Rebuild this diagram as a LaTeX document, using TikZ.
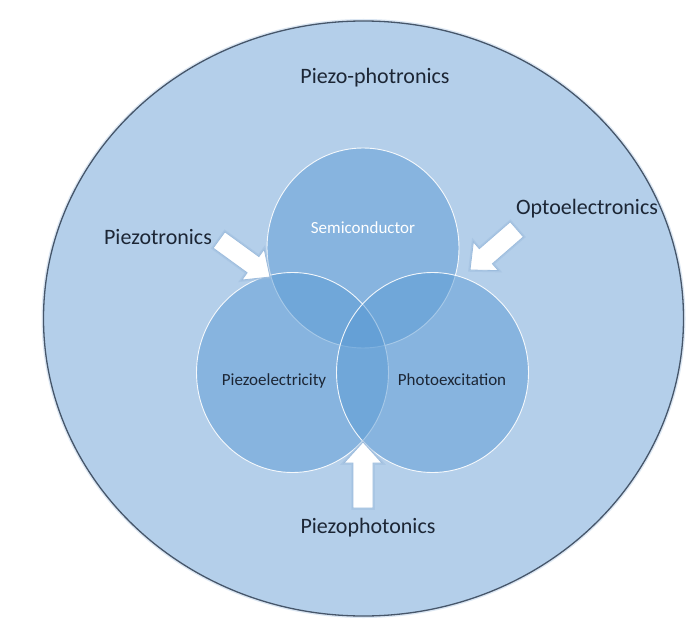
\documentclass[tikz,border=0pt]{standalone}
\usepackage{fontspec}
\setmainfont{Carlito}
\definecolor{bgblue}{HTML}{B4CFEA}
\definecolor{vennblue}{HTML}{5B9BD5}
\definecolor{outline}{HTML}{46566A}
\definecolor{labelc}{HTML}{1C2635}
\definecolor{glowc}{HTML}{9CBCDD}
\newcommand\blockarr[3]{%
  \begin{scope}[shift={#1}, rotate=#2]
    \filldraw[blockarrow] (0,0) -- (-21,19) -- (-21,10) -- (-#3,10) -- (-#3,-10) -- (-21,-10) -- (-21,-19) -- cycle;
  \end{scope}}
\begin{document}
\begin{tikzpicture}[x=1pt,y=1pt,
  bigtext/.style={font=\fontsize{22}{26}\selectfont, text=labelc, anchor=base, inner sep=0pt},
  smalltext/.style={font=\fontsize{17}{20}\selectfont, text=labelc, anchor=base, inner sep=0pt},
  venn/.style={fill=vennblue, fill opacity=0.5, draw=white, draw opacity=0.9, line width=0.9pt},
  blockarrow/.style={fill=white, draw=glowc, line width=0.8pt, line join=miter,
    preaction={draw=glowc, draw opacity=0.45, line width=3.5pt}}]
\useasboundingbox (0,0) rectangle (692,638);
\fill[white] (0,0) rectangle (692,638);
% outer circle
\coordinate (outer) at (363.5,319.5);
\draw[glowc, opacity=0.35, line width=4pt] (outer) ellipse [x radius=320, y radius=297.5];
\filldraw[fill=bgblue, draw=outline, line width=1.3pt] (outer) ellipse [x radius=320, y radius=297.5];
% venn circles
\coordinate (semi) at (363,390);
\coordinate (piezo) at (292.5,265.5);
\coordinate (photo) at (432.5,265.5);
\path[venn] (semi) ellipse [x radius=96, y radius=100];
\path[venn] (piezo) ellipse [x radius=96, y radius=100];
\path[venn] (photo) ellipse [x radius=96, y radius=100];
% arrows
\coordinate (tipA) at (270,361);
\coordinate (tipB) at (470,368);
\coordinate (tipC) at (363,196);
\blockarr{(tipA)}{-36}{63}
\blockarr{(tipB)}{221}{62}
\blockarr{(tipC)}{90}{66}
% labels
\node[bigtext] (title) at (375,554.6) {Piezo-photronics};
\node[bigtext] (ptron) at (158,393) {Piezotronics};
\node[bigtext] (opto) at (587,423) {Optoelectronics};
\node[bigtext] (pphot) at (368,105) {Piezophotonics};
\node[smalltext, text=white] (semil) at (363,404) {Semiconductor};
\node[smalltext] (pel) at (274,253) {Piezoelectricity};
\node[smalltext] (pexl) at (452,253) {Photoexcitation};
\end{tikzpicture}
\end{document}
